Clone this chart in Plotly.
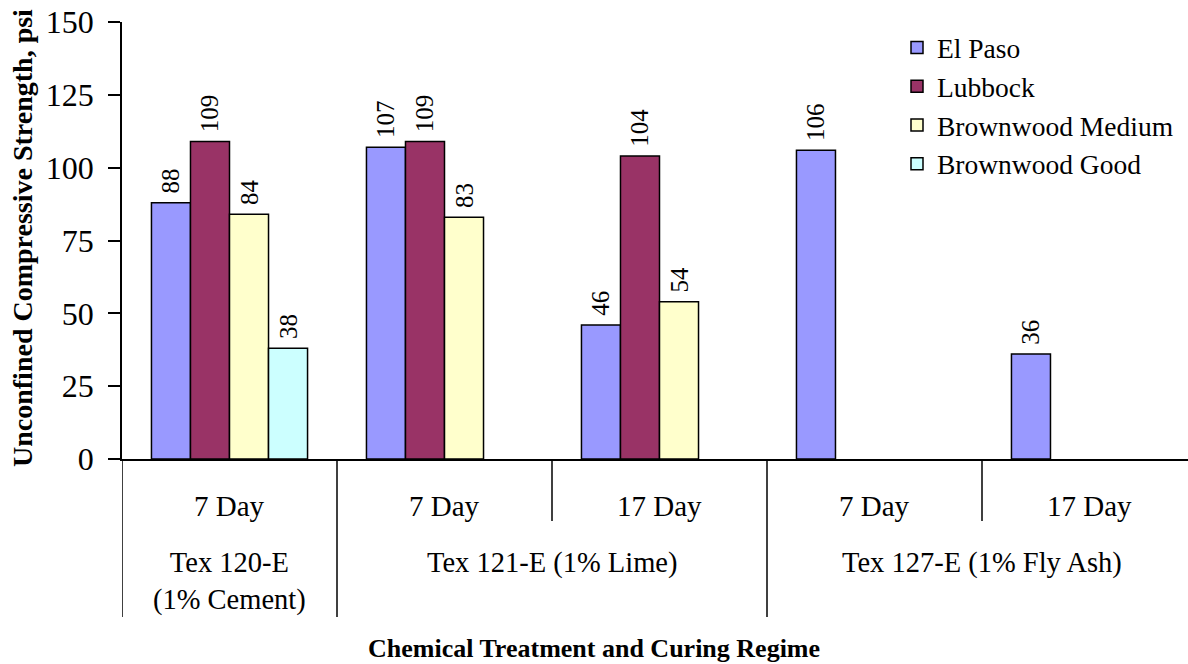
import plotly.graph_objects as go

# ---- data ----
categories = ["C1", "C2", "C3", "C4", "C5"]
cure_labels = ["7 Day", "7 Day", "17 Day", "7 Day", "17 Day"]
treatment_labels = ["Tex 120-E<br>(1% Cement)", "Tex 121-E (1% Lime)", "Tex 127-E (1% Fly Ash)"]
treatment_pos = [0, 1.5, 3.5]
inner_dividers = [1.5, 3.5]
outer_dividers = [-0.5, 0.5, 2.5]

el_paso = [88, 107, 46, 106, 36]
lubbock = [109, 109, 104, None, None]
brownwood_medium = [84, 83, 54, None, None]
brownwood_good = [38, None, None, None, None]

series = [
    ("El Paso", el_paso, "#9999FF"),
    ("Lubbock", lubbock, "#993366"),
    ("Brownwood Medium", brownwood_medium, "#FFFFCC"),
    ("Brownwood Good", brownwood_good, "#CCFFFF"),
]

y_ticks = [0, 25, 50, 75, 100, 125, 150]

FONT = "Liberation Serif, Times New Roman, serif"

W, H = 1188, 664
ML, MR, MT, MB = 122, 0, 22, 205
PW = W - ML - MR
PH = H - MT - MB
xpx = 215.0
x_lo = -0.5
x_hi = x_lo + PW / xpx


def py(px):
    return (H - MB - px) / PH


def pxx(px):
    return (px - ML) / PW


fig = go.Figure()
xs = list(range(len(categories)))
for name, vals, col in series:
    fig.add_trace(go.Bar(
        x=xs, y=vals, name=name,
        marker=dict(color=col, line=dict(color="black", width=1.5)),
        texttemplate="\u00a0%{y}",
        textposition="outside", textangle=-90,
        textfont=dict(family=FONT, size=25, color="black"),
        constraintext="none", cliponaxis=False,
    ))

shapes = []
for d in outer_dividers:
    shapes.append(dict(type="line", xref="x", yref="paper", x0=d, x1=d,
                       y0=0, y1=py(617), line=dict(color="black", width=1.5)))
for d in inner_dividers:
    shapes.append(dict(type="line", xref="x", yref="paper", x0=d, x1=d,
                       y0=0, y1=py(521), line=dict(color="black", width=1.5)))

annotations = []
for i, lab in enumerate(cure_labels):
    annotations.append(dict(x=i, y=py(506), xref="x", yref="paper", text=lab,
                            showarrow=False, font=dict(family=FONT, size=29, color="black"),
                            xanchor="center", yanchor="middle"))
for pos, lab in zip(treatment_pos, treatment_labels):
    two = "<br>" in lab
    annotations.append(dict(x=pos, y=py(581.5) if two else py(563), xref="x", yref="paper", text=lab,
                            showarrow=False, font=dict(family=FONT, size=28.5, color="black"),
                            xanchor="center", yanchor="middle"))
annotations.append(dict(x=pxx(594), y=py(648), xref="paper", yref="paper",
                        text="<b>Chemical Treatment and Curing Regime</b>", showarrow=False,
                        font=dict(family=FONT, size=26, color="black"),
                        xanchor="center", yanchor="middle"))
annotations.append(dict(x=pxx(23), y=py(238), xref="paper", yref="paper",
                        text="<b>Unconfined Compressive Strength, psi</b>", showarrow=False,
                        textangle=-90, font=dict(family=FONT, size=28, color="black"),
                        xanchor="center", yanchor="middle"))

fig.update_layout(
    width=W, height=H,
    margin=dict(l=ML, r=MR, t=MT, b=MB, pad=0),
    paper_bgcolor="white", plot_bgcolor="white",
    barmode="group", bargap=0.274, bargroupgap=0,
    font=dict(family=FONT, color="black"),
    showlegend=True,
    legend=dict(x=pxx(897), y=py(23), xanchor="left", yanchor="top",
                font=dict(family=FONT, size=27.5, color="black"),
                bgcolor="rgba(0,0,0,0)", borderwidth=0),
    xaxis=dict(range=[x_lo, x_hi], showticklabels=False, showgrid=False,
               zeroline=False, showline=True, linecolor="black", linewidth=1.5,
               ticks="", fixedrange=True),
    yaxis=dict(range=[0, 150], tickvals=y_ticks, showgrid=False, zeroline=False,
               showline=True, linecolor="black", linewidth=1.5,
               ticks="outside", ticklen=12, tickwidth=1.5, tickcolor="black",
               ticklabelstandoff=8,
               tickfont=dict(family=FONT, size=32, color="black")),
    shapes=shapes, annotations=annotations,
)

fig.write_html("out.html", config={"displayModeBar": False},
               post_script="document.body.style.margin='0';document.body.style.overflow='hidden';")
